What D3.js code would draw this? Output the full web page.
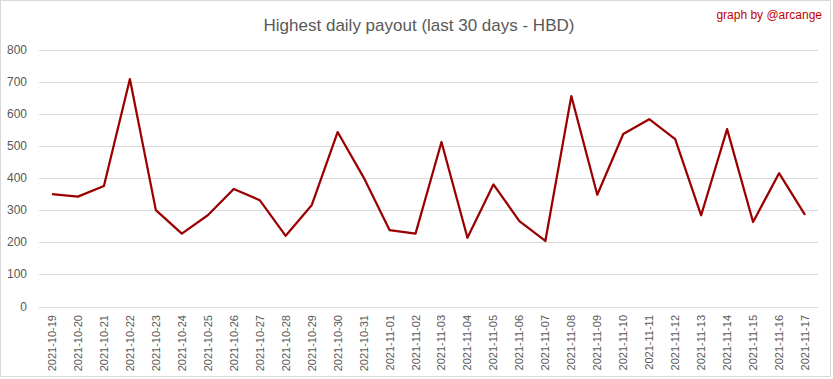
<html>
<head>
  <title>Highest daily payout</title>
  <script src="https://cdn.jsdelivr.net/npm/d3@7"></script>
  <style>
    body { margin: 0; background: #fff; }
    text { font-family: 'Liberation Sans', Arial, sans-serif; }
  </style>
</head>
<body>
<div id="chart"></div>
<script>
var dates = ["2021-10-19","2021-10-20","2021-10-21","2021-10-22","2021-10-23","2021-10-24","2021-10-25","2021-10-26","2021-10-27","2021-10-28",
             "2021-10-29","2021-10-30","2021-10-31","2021-11-01","2021-11-02","2021-11-03","2021-11-04","2021-11-05","2021-11-06","2021-11-07",
             "2021-11-08","2021-11-09","2021-11-10","2021-11-11","2021-11-12","2021-11-13","2021-11-14","2021-11-15","2021-11-16","2021-11-17"];
var payouts = [350, 342, 375, 708, 300, 227, 284, 366, 331, 220,
               315, 543, 402, 238, 227, 512, 214, 380, 266, 204,
               655, 348, 537, 583, 521, 284, 552, 263, 415, 285];
var yTicks = [0, 100, 200, 300, 400, 500, 600, 700, 800];
var chartTitle = "Highest daily payout (last 30 days - HBD)";
var credit = "graph by @arcange";

var width = 833, height = 379;
var margin = {left: 39, right: 15, top: 49.5, bottom: 72.5};

var svg = d3.select("#chart").append("svg").attr("width", width).attr("height", height);

// frame
svg.append("rect").attr("x", 0.5).attr("y", 0.5).attr("width", 830).attr("height", 376)
  .style("fill", "#fff").style("stroke", "#d9d9d9");

var x = d3.scaleBand().domain(dates).range([margin.left, width - margin.right]);
var y = d3.scaleLinear().domain([0, 800]).range([height - margin.bottom, margin.top]);

// gridlines
svg.append("g").selectAll("line").data(yTicks).enter().append("line")
  .attr("x1", margin.left).attr("x2", width - margin.right)
  .attr("y1", d => Math.round(y(d)) + 0.5).attr("y2", d => Math.round(y(d)) + 0.5)
  .style("stroke", "#d9d9d9").style("stroke-width", 1);

// y labels
svg.append("g").selectAll("text").data(yTicks).enter().append("text")
  .attr("x", 27).attr("y", d => y(d) + 4)
  .attr("text-anchor", "end")
  .style("font-size", "12px").style("fill", "#595959")
  .text(d => d);

// x labels
svg.append("g").selectAll("text").data(dates).enter().append("text")
  .attr("transform", d => "translate(" + (x(d) + x.bandwidth() / 2 + 4) + ",315) rotate(-90)")
  .attr("text-anchor", "end")
  .style("font-size", "11px").style("fill", "#595959")
  .text(d => d);

// line
var line = d3.line()
  .x((d, i) => x(dates[i]) + x.bandwidth() / 2)
  .y(d => y(d));

svg.append("path").datum(payouts)
  .attr("d", line)
  .style("fill", "none").style("stroke", "#9b0000").style("stroke-width", 2.25)
  .style("stroke-linejoin", "round");

// title
svg.append("text").attr("x", 419).attr("y", 31)
  .attr("text-anchor", "middle")
  .style("font-size", "17px").style("fill", "#595959")
  .text(chartTitle);

svg.append("text").attr("x", 822).attr("y", 19)
  .attr("text-anchor", "end")
  .style("font-size", "12px").style("fill", "#c00000")
  .text(credit);
</script>
</body>
</html>
